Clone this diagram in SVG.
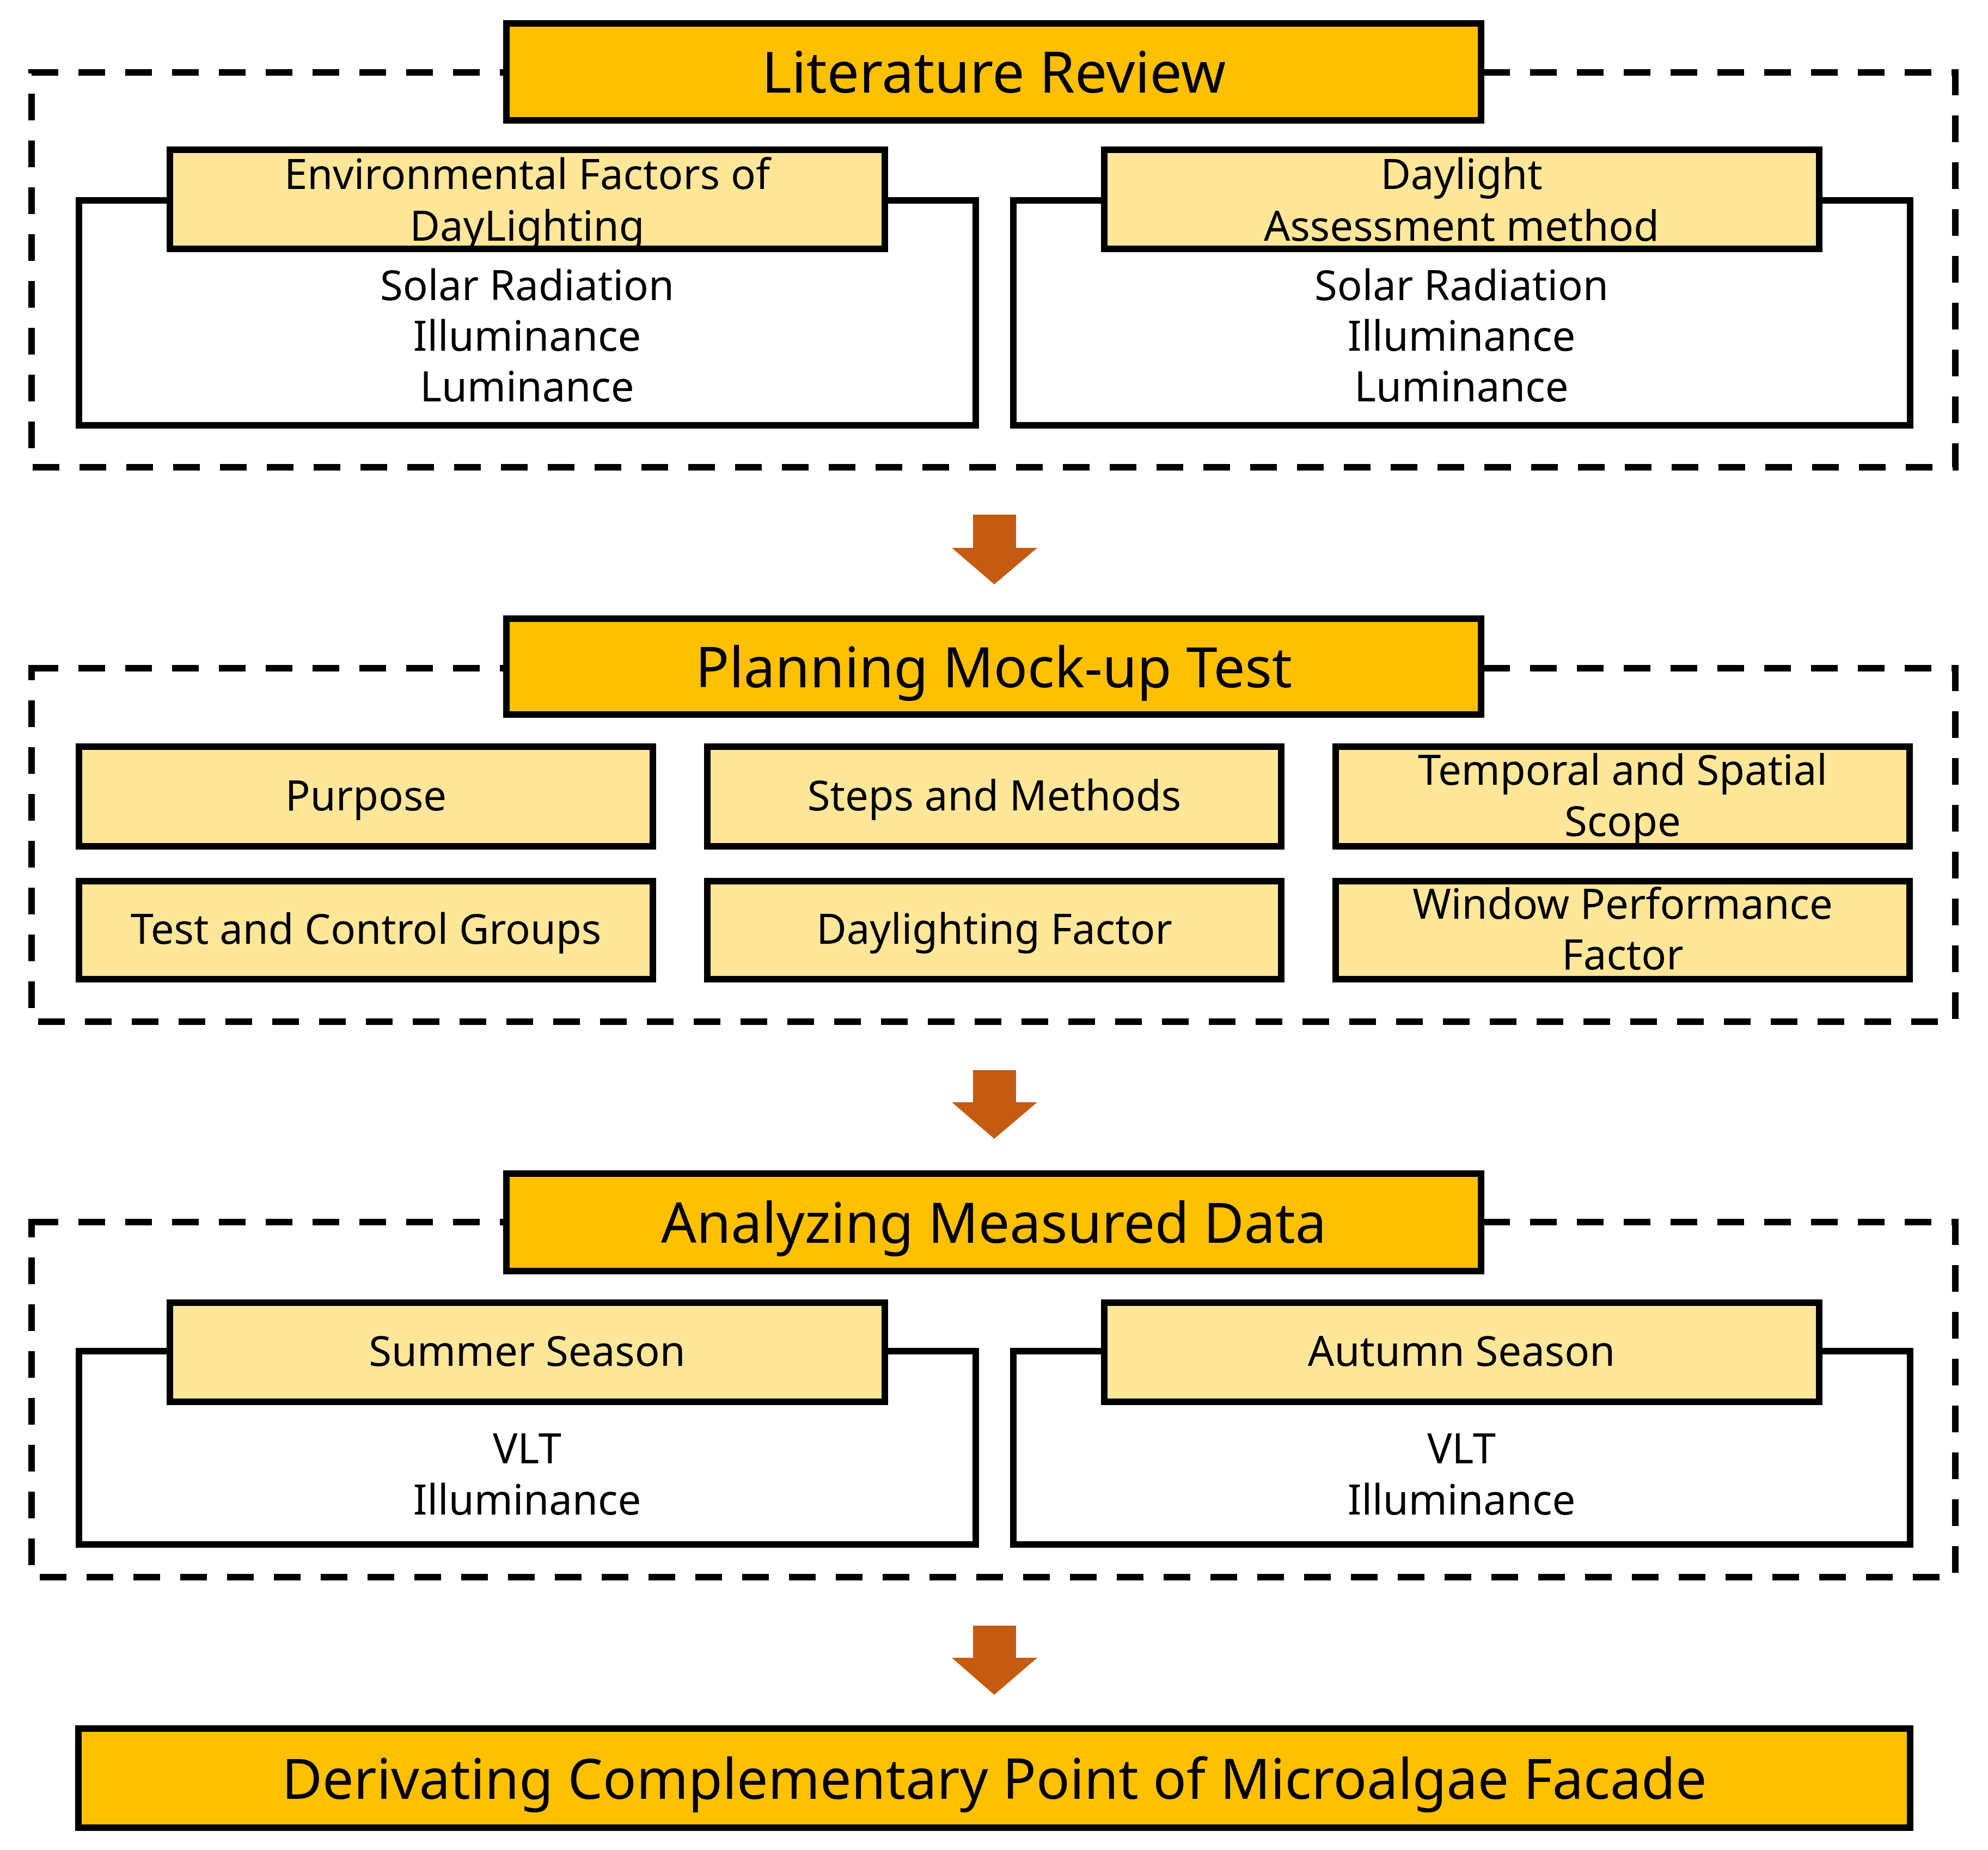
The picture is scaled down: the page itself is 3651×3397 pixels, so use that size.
<svg xmlns="http://www.w3.org/2000/svg" width="3651" height="3397" viewBox="0 0 3651 3397">
<style>
.dash{fill:none;stroke:#000;stroke-width:12;stroke-dasharray:49 37}
.title{fill:#FFC000;stroke:#000;stroke-width:12}
.head{fill:#FFE699;stroke:#000;stroke-width:12}
.white{fill:#FFFFFF;stroke:#000;stroke-width:12}
.arrow{fill:#C55A11}
text{font-family:"Noto Sans","Open Sans","DejaVu Sans",sans-serif;fill:#000;text-anchor:middle}
.tt{font-size:103px}
.st{font-size:76px}
</style>
<rect width="3651" height="3397" fill="#FFFFFF"/>

<g id="section1">
<rect class="dash" x="58" y="133" width="3533" height="725"/>
<g id="literature-review">
<rect class="title" x="930" y="43" width="1790" height="178"/>
<text class="tt" x="1825" y="170" style="font-size:105px">Literature Review</text>
</g>
<g id="env-factors">
<rect class="white" x="145" y="368" width="1647" height="413"/>
<rect class="head" x="312" y="275" width="1313" height="182"/>
<text class="st" x="968" y="347">Environmental Factors of</text>
<text class="st" x="968" y="442">DayLighting</text>
<text class="st" x="968" y="551">Solar Radiation</text>
<text class="st" x="968" y="644">Illuminance</text>
<text class="st" x="968" y="737">Luminance</text>
</g>
<g id="daylight-assessment">
<rect class="white" x="1861" y="368" width="1647" height="413"/>
<rect class="head" x="2028" y="275" width="1313" height="182"/>
<text class="st" x="2684" y="347">Daylight</text>
<text class="st" x="2684" y="442">Assessment method</text>
<text class="st" x="2684" y="551">Solar Radiation</text>
<text class="st" x="2684" y="644">Illuminance</text>
<text class="st" x="2684" y="737">Luminance</text>
</g>
</g>

<g id="section2">
<rect class="dash" x="58" y="1227" width="3533" height="649"/>
<g id="planning">
<rect class="title" x="930" y="1136" width="1790" height="176"/>
<text class="tt" x="1825" y="1262">Planning Mock-up Test</text>
</g>
<g id="purpose">
<rect class="head" x="145" y="1371" width="1054" height="183"/>
<text class="st" x="672" y="1488">Purpose</text>
</g>
<g id="steps">
<rect class="head" x="1299" y="1371" width="1054" height="183"/>
<text class="st" x="1826" y="1488">Steps and Methods</text>
</g>
<g id="temporal">
<rect class="head" x="2453" y="1371" width="1054" height="183"/>
<text class="st" x="2980" y="1441">Temporal and Spatial</text>
<text class="st" x="2980" y="1535">Scope</text>
</g>
<g id="test-control">
<rect class="head" x="145" y="1618" width="1054" height="180"/>
<text class="st" x="672" y="1733">Test and Control Groups</text>
</g>
<g id="daylighting-factor">
<rect class="head" x="1299" y="1618" width="1054" height="180"/>
<text class="st" x="1826" y="1733">Daylighting Factor</text>
</g>
<g id="window-performance">
<rect class="head" x="2453" y="1618" width="1054" height="180"/>
<text class="st" x="2980" y="1687">Window Performance</text>
<text class="st" x="2980" y="1780">Factor</text>
</g>
</g>

<g id="section3">
<rect class="dash" x="58" y="2244" width="3533" height="652"/>
<g id="analyzing">
<rect class="title" x="930" y="2155" width="1790" height="179"/>
<text class="tt" x="1825" y="2282" style="font-size:102px">Analyzing Measured Data</text>
</g>
<g id="summer">
<rect class="white" x="145" y="2481" width="1647" height="355"/>
<rect class="head" x="312" y="2392" width="1313" height="182"/>
<text class="st" x="968" y="2508">Summer Season</text>
<text class="st" x="968" y="2687">VLT</text>
<text class="st" x="968" y="2781">Illuminance</text>
</g>
<g id="autumn">
<rect class="white" x="1861" y="2481" width="1647" height="355"/>
<rect class="head" x="2028" y="2392" width="1313" height="182"/>
<text class="st" x="2684" y="2508">Autumn Season</text>
<text class="st" x="2684" y="2687">VLT</text>
<text class="st" x="2684" y="2781">Illuminance</text>
</g>
</g>

<g id="derivating">
<rect class="title" x="144" y="3174" width="3364" height="182"/>
<text class="tt" x="1826" y="3303" style="font-size:102px">Derivating Complementary Point of Microalgae Facade</text>
</g>

<g id="connectors">
<polygon class="arrow" points="1787,945 1866,945 1866,1006 1905,1006 1826,1073 1748,1006 1787,1006"/>
<polygon class="arrow" points="1787,1965 1866,1965 1866,2024 1905,2024 1826,2091 1748,2024 1787,2024"/>
<polygon class="arrow" points="1787,2985 1866,2985 1866,3044 1905,3044 1826,3112 1748,3044 1787,3044"/>
</g>
</svg>
